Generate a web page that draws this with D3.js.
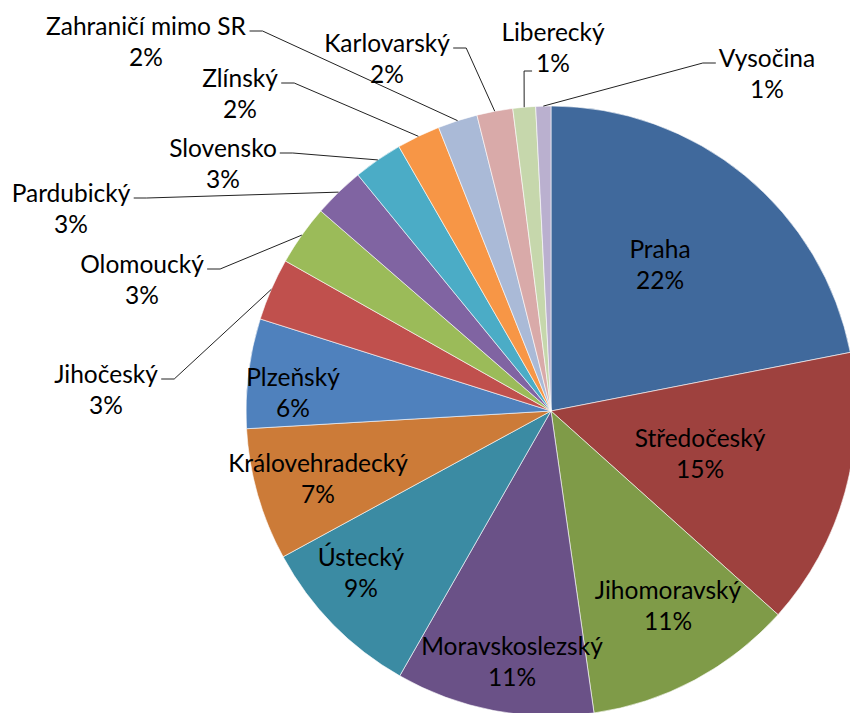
<!DOCTYPE html>
<html>
<head>
<meta charset="utf-8">
<script src="https://cdn.jsdelivr.net/npm/d3@7"></script>
<style>
    body { margin: 0; background: #fff; }
    text { font-family: Lato, "Open Sans", sans-serif; font-size: 24.5px; fill: #000; }
</style>
</head>
<body>
<div id="chart"></div>
<script>
// podíl krajů (v %)
const regions = ["Praha", "Středočeský", "Jihomoravský", "Moravskoslezský", "Ústecký",
    "Královehradecký", "Plzeňský", "Jihočeský", "Olomoucký", "Pardubický", "Slovensko",
    "Zlínský", "Zahraničí mimo SR", "Karlovarský", "Liberecký", "Vysočina"];
const shares = [21.9, 14.7, 11.1, 10.5, 8.8, 7.0, 5.8, 3.3, 3.2, 2.7, 2.6, 2.3, 2.1, 1.9, 1.2, 0.8];
const colors = ["#40699C", "#9E413E", "#7F9B48", "#6A5187", "#3B8BA3", "#CC7B38", "#4F81BD",
    "#C0504D", "#9BBB59", "#8064A2", "#4BACC6", "#F79646", "#AABAD7", "#D9AAA9", "#C6D7AC", "#BAB0CF"];

// label layout: name line centre, leader side (null = inside the slice)
const labelLayout = {
    "Praha": [660, 248, null],
    "Středočeský": [700, 437, null],
    "Jihomoravský": [668, 589, null],
    "Moravskoslezský": [512, 645, null],
    "Ústecký": [361, 556, null],
    "Královehradecký": [318, 462, null],
    "Plzeňský": [293, 376, null],
    "Jihočeský": [106, 373, "right"],
    "Olomoucký": [142, 263, "right"],
    "Pardubický": [71, 192, "right"],
    "Slovensko": [223, 147, "right"],
    "Zlínský": [240, 77, "right"],
    "Zahraničí mimo SR": [146, 25, "right"],
    "Karlovarský": [387, 42, "right"],
    "Liberecký": [553, 31, "pctLeft"],
    "Vysočina": [767, 57, "left"]
};

const width = 850, height = 713;
const cx = 551, cy = 411, radius = 305;
const lineGap = 31;

const svg = d3.select("#chart")
    .append("svg")
    .attr("width", width)
    .attr("height", height);

const data = regions.map((r, i) => ({ region: r, share: shares[i], color: colors[i] }));
const total = d3.sum(shares);

const pie = d3.pie().sort(null).value(d => d.share);
const arc = d3.arc().innerRadius(0).outerRadius(radius);
const arcs = pie(data);

const g = svg.append("g").attr("transform", `translate(${cx},${cy})`);

g.selectAll("path.slice")
    .data(arcs)
    .enter().append("path")
    .attr("class", "slice")
    .attr("d", arc)
    .attr("fill", d => d.data.color)
    .attr("stroke", "#fff")
    .attr("stroke-width", 0.6);

// labels
const labels = svg.append("g");
arcs.forEach(d => {
    const [lx, ly, side] = labelLayout[d.data.region];
    const pct = Math.round(d.data.share / total * 100) + "%";
    const name = labels.append("text")
        .attr("x", lx).attr("y", ly)
        .attr("text-anchor", "middle")
        .attr("dominant-baseline", "central")
        .text(d.data.region);
    const pctText = labels.append("text")
        .attr("x", lx).attr("y", ly + lineGap)
        .attr("text-anchor", "middle")
        .attr("dominant-baseline", "central")
        .text(pct);

    if (!side) return;

    // leader line: short horizontal tick from the label, then straight to the slice edge
    const mid = (d.startAngle + d.endAngle) / 2;
    const ex = cx + radius * Math.sin(mid), ey = cy - radius * Math.cos(mid);
    let sx, sy, kx;
    if (side === "right") {
        const b = name.node().getBBox();
        sx = b.x + b.width + 3; sy = ly + 6; kx = sx + 13;
    } else if (side === "left") {
        const b = name.node().getBBox();
        sx = b.x - 3; sy = ly + 6; kx = sx - 13;
    } else {
        const b = pctText.node().getBBox();
        sx = b.x - 4; sy = ly + lineGap + 9; kx = sx - 8;
    }
    labels.append("path")
        .attr("d", `M${sx},${sy}L${kx},${sy}L${ex},${ey}`)
        .attr("fill", "none")
        .attr("stroke", "#222")
        .attr("stroke-width", 1);
});
</script>
</body>
</html>
